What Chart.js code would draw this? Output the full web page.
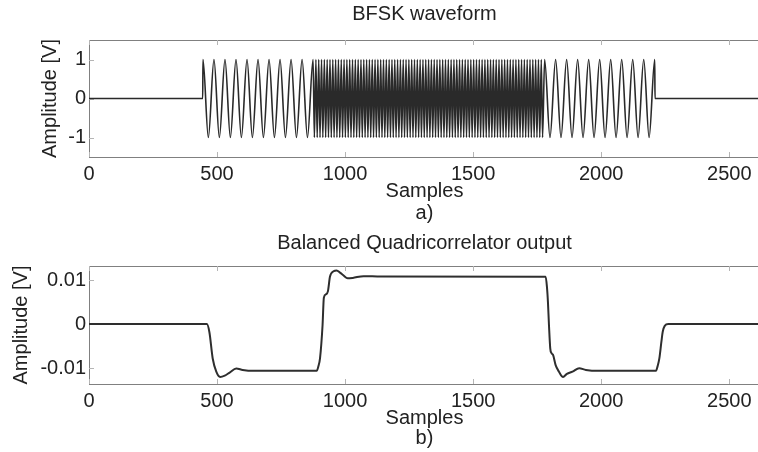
<!DOCTYPE html>
<html>
<head>
<meta charset="utf-8">
<script src="https://cdn.jsdelivr.net/npm/chart.js@4.4.0/dist/chart.umd.min.js"></script>
<style>
  html, body { margin: 0; padding: 0; background: #fff; overflow: hidden; width: 758px; height: 452px; }
  canvas { position: absolute; left: 0; }
  #waveform { top: 0; }
  #quadOutput { top: 226px; }
</style>
</head>
<body>
<canvas id="waveform" width="760" height="226"></canvas>
<canvas id="quadOutput" width="760" height="226"></canvas>
<script>
// axis ticks
const xTicks = [0, 500, 1000, 1500, 2000, 2500];
const xTickLabels = ['0', '500', '1000', '1500', '2000', '2500'];
const waveTicks = [-1, 0, 1];
const waveTickLabels = ['-1', '0', '1'];
const quadTicks = [-0.01, 0, 0.01];
const quadTickLabels = ['-0.01', '0', '0.01'];

// BFSK waveform: peaks / troughs read off plot a)
const idleStartSamples = [0, 444];
const idleStartAmp = [0, 0];
const lowTone1Samples = [445, 466, 488, 509, 531, 552, 574, 595, 617, 638, 660, 681, 703, 724, 746, 767, 789, 810, 832, 853, 875];
const lowTone1Amp = [1, -1, 1, -1, 1, -1, 1, -1, 1, -1, 1, -1, 1, -1, 1, -1, 1, -1, 1, -1, 1];
const highToneSamples = [
  880, 886, 891, 897, 902, 908, 913, 919, 924, 930, 935, 941, 946, 952, 957, 963, 968, 974, 979, 985,
  990, 996, 1001, 1007, 1012, 1018, 1023, 1029, 1034, 1040, 1045, 1051, 1056, 1062, 1067, 1073, 1078, 1084, 1089, 1095,
  1100, 1106, 1111, 1117, 1122, 1128, 1133, 1139, 1144, 1150, 1155, 1161, 1166, 1172, 1177, 1183, 1188, 1194, 1199, 1205,
  1210, 1216, 1221, 1227, 1232, 1238, 1243, 1249, 1254, 1260, 1265, 1271, 1276, 1282, 1287, 1293, 1298, 1304, 1309, 1315,
  1320, 1326, 1331, 1337, 1342, 1348, 1353, 1359, 1364, 1370, 1375, 1381, 1386, 1392, 1397, 1403, 1408, 1414, 1419, 1425,
  1430, 1436, 1441, 1447, 1452, 1458, 1463, 1469, 1474, 1480, 1485, 1491, 1496, 1502, 1507, 1513, 1518, 1524, 1529, 1535,
  1540, 1546, 1551, 1557, 1562, 1568, 1573, 1579, 1584, 1590, 1595, 1601, 1606, 1612, 1617, 1623, 1628, 1634, 1639, 1645,
  1650, 1656, 1661, 1667, 1672, 1678, 1683, 1689, 1694, 1700, 1705, 1711, 1716, 1722, 1727, 1733, 1738, 1744, 1749, 1755,
  1760, 1766, 1771
];
const highToneAmp = [
  -1, 1, -1, 1, -1, 1, -1, 1, -1, 1, -1, 1, -1, 1, -1, 1, -1, 1, -1, 1,
  -1, 1, -1, 1, -1, 1, -1, 1, -1, 1, -1, 1, -1, 1, -1, 1, -1, 1, -1, 1,
  -1, 1, -1, 1, -1, 1, -1, 1, -1, 1, -1, 1, -1, 1, -1, 1, -1, 1, -1, 1,
  -1, 1, -1, 1, -1, 1, -1, 1, -1, 1, -1, 1, -1, 1, -1, 1, -1, 1, -1, 1,
  -1, 1, -1, 1, -1, 1, -1, 1, -1, 1, -1, 1, -1, 1, -1, 1, -1, 1, -1, 1,
  -1, 1, -1, 1, -1, 1, -1, 1, -1, 1, -1, 1, -1, 1, -1, 1, -1, 1, -1, 1,
  -1, 1, -1, 1, -1, 1, -1, 1, -1, 1, -1, 1, -1, 1, -1, 1, -1, 1, -1, 1,
  -1, 1, -1, 1, -1, 1, -1, 1, -1, 1, -1, 1, -1, 1, -1, 1, -1, 1, -1, 1,
  -1, 1, -1
];
const lowTone2Samples = [1779, 1800, 1822, 1843, 1865, 1886, 1908, 1929, 1951, 1972, 1994, 2015, 2037, 2058, 2080, 2101, 2123, 2144, 2166, 2187, 2209];
const lowTone2Amp = [1, -1, 1, -1, 1, -1, 1, -1, 1, -1, 1, -1, 1, -1, 1, -1, 1, -1, 1, -1, 1];
const idleEndSamples = [2210, 2620];
const idleEndAmp = [0, 0];

// quadricorrelator output, plot b)
const quadSamples = [
  0, 460, 470, 483, 497, 512, 530, 549, 575, 600, 640, 889, 896, 902, 912, 917, 926, 933, 941, 955,
  967, 980, 993, 1010, 1030, 1072, 1140, 1783, 1788, 1792, 1796, 1801, 1806, 1812, 1822, 1835, 1851, 1866, 1888, 1914,
  1940, 1992, 2214, 2220, 2227, 2235, 2240, 2248, 2262, 2620
];
const quadValues = [
  0, 0, -0.0018, -0.0078, -0.0108, -0.0120, -0.0117, -0.0110, -0.0101, -0.0104, -0.0106, -0.0106, -0.0095, -0.0078, -0.0002, 0.0060, 0.0068, 0.0075, 0.0108, 0.0120,
  0.0122, 0.0117, 0.0111, 0.0104, 0.0105, 0.0109, 0.0108, 0.01075, 0.0085, 0.0050, -0.0002, -0.0055, -0.0066, -0.0070, -0.0093, -0.0108, -0.0120, -0.0113, -0.0108, -0.0100,
  -0.0104, -0.0106, -0.0106, -0.0096, -0.0078, -0.0040, -0.0018, -0.0004, 0, 0
];

const textColor = '#222';
const fontFamily = '"Liberation Sans", Arial, Helvetica, sans-serif';

const toPoints = (xs, ys) => xs.map((x, i) => ({ x: x, y: ys[i] }));

const bfskPoints = [].concat(
  toPoints(idleStartSamples, idleStartAmp),
  toPoints(lowTone1Samples, lowTone1Amp),
  toPoints(highToneSamples, highToneAmp),
  toPoints(lowTone2Samples, lowTone2Amp),
  toPoints(idleEndSamples, idleEndAmp)
);

// matlab style box with inward ticks
const boxPlugin = {
  id: 'matlabBox',
  beforeDatasetsDraw(chart) {
    const { ctx, chartArea: a, scales: { x, y } } = chart;
    ctx.save();
    ctx.strokeStyle = '#808080';
    ctx.lineWidth = 1;
    ctx.strokeRect(a.left + 0.5, a.top + 0.5, a.right - a.left, a.bottom - a.top);
    ctx.strokeStyle = '#b5b5b5';
    ctx.beginPath();
    x.ticks.forEach(t => {
      const px = Math.round(x.getPixelForValue(t.value)) + 0.5;
      ctx.moveTo(px, a.bottom); ctx.lineTo(px, a.bottom - 5);
      ctx.moveTo(px, a.top); ctx.lineTo(px, a.top + 5);
    });
    y.ticks.forEach(t => {
      const py = Math.round(y.getPixelForValue(t.value)) + 0.5;
      ctx.moveTo(a.left, py); ctx.lineTo(a.left + 5, py);
    });
    ctx.stroke();
    ctx.restore();
  }
};

const makeChart = (id, points, cfg) => {
  return new Chart(document.getElementById(id), {
    type: 'line',
    data: {
      datasets: [{
        data: points,
        borderColor: cfg.lineColor,
        borderWidth: cfg.lineWidth,
        pointRadius: 0,
        cubicInterpolationMode: 'monotone',
        fill: false,
      }],
    },
    options: {
      responsive: false,
      animation: false,
      devicePixelRatio: 1,
      layout: { padding: 0 },
      plugins: {
        legend: { display: false },
        tooltip: { enabled: false },
        title: {
          display: true,
          text: cfg.title,
          fullSize: false,
          color: textColor,
          font: { family: fontFamily, size: 20, weight: 'normal' },
          padding: cfg.titlePad,
        },
      },
      scales: {
        x: {
          type: 'linear',
          min: 0,
          max: 2620,
          afterBuildTicks: s => { s.ticks = xTicks.map(v => ({ value: v })); },
          afterFit: s => { s.height = cfg.xAxisHeight; },
          grid: { display: false, drawTicks: false },
          border: { display: false },
          ticks: {
            color: textColor,
            font: { family: fontFamily, size: 20 },
            padding: 5,
            maxRotation: 0,
            autoSkip: false,
            callback: v => xTickLabels[xTicks.indexOf(v)],
          },
          title: {
            display: true,
            text: ['Samples', cfg.panel],
            color: textColor,
            font: { family: fontFamily, size: 20, lineHeight: cfg.xTitleLine },
            padding: { top: 0, bottom: cfg.xTitlePad },
          },
        },
        y: {
          type: 'linear',
          min: cfg.yMin,
          max: cfg.yMax,
          afterBuildTicks: s => { s.ticks = cfg.yTicks.map(v => ({ value: v })); },
          afterFit: s => { s.width = 89; },
          grid: { display: false, drawTicks: false },
          border: { display: false },
          ticks: {
            color: textColor,
            font: { family: fontFamily, size: 20 },
            padding: 3,
            callback: v => cfg.yLabels[cfg.yTicks.indexOf(v)],
          },
          title: {
            display: true,
            text: 'Amplitude [V]',
            color: textColor,
            font: { family: fontFamily, size: 20 },
            padding: { top: cfg.yTitlePad, bottom: 0 },
          },
        },
      },
    },
    plugins: [boxPlugin],
  });
};

makeChart('waveform', bfskPoints, {
  title: 'BFSK waveform',
  titlePad: { top: 2, bottom: 14 },
  panel: 'a)',
  xAxisHeight: 69,
  xTitlePad: 2,
  xTitleLine: 1.1,
  yMin: -1.5,
  yMax: 1.5,
  yTicks: waveTicks,
  yLabels: waveTickLabels,
  yTitlePad: 38,
  lineColor: '#2a2a2a',
  lineWidth: 1.6,
});

makeChart('quadOutput', toPoints(quadSamples, quadValues), {
  title: 'Balanced Quadricorrelator output',
  titlePad: { top: 5, bottom: 11 },
  panel: 'b)',
  xAxisHeight: 68,
  xTitlePad: 4,
  xTitleLine: 1.0,
  yMin: -0.0136,
  yMax: 0.0132,
  yTicks: quadTicks,
  yLabels: quadTickLabels,
  yTitlePad: 9,
  lineColor: '#2e2e2e',
  lineWidth: 2,
});
</script>
</body>
</html>
